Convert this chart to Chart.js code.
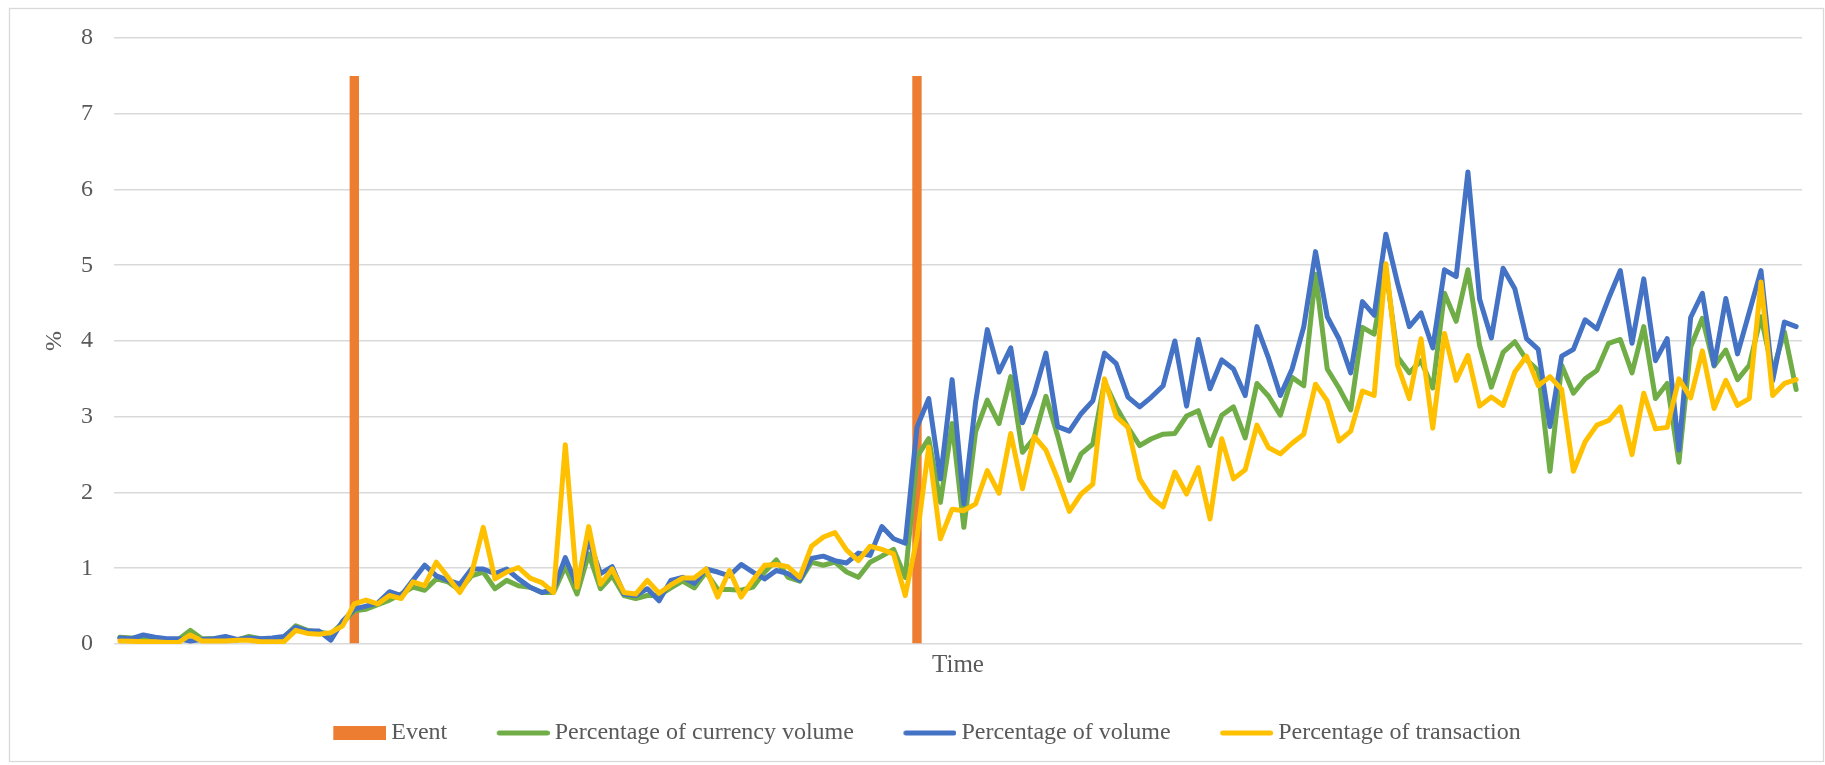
<!DOCTYPE html>
<html><head><meta charset="utf-8">
<script src="https://cdn.jsdelivr.net/npm/chart.js@4.4.1/dist/chart.umd.min.js"></script>
<style>html,body{margin:0;padding:0;background:#fff;}canvas{display:block;}</style>
</head><body>
<canvas id="c" width="1825" height="765"></canvas>
<script>
// ---- data ----
const categories = Array.from({length: 144}, (_, i) => String(i + 1));
const seriesNames = ['Event', 'Percentage of currency volume', 'Percentage of volume', 'Percentage of transaction'];
const eventIndices = [20, 68];
const eventLevel = 7.5;
const currencyVolume = [
0.09,0.08,0.07,0.07,0.06,0.06,0.18,0.07,0.07,0.08,0.05,0.10,0.07,0.06,0.09,0.24,0.18,0.16,0.13,0.28,
0.44,0.46,0.52,0.58,0.66,0.75,0.71,0.86,0.82,0.71,0.90,0.95,0.73,0.84,0.77,0.75,0.68,0.68,1.02,0.66,
1.19,0.73,0.90,0.64,0.60,0.64,0.64,0.74,0.83,0.74,0.95,0.72,0.72,0.71,0.75,0.95,1.11,0.88,0.83,1.08,
1.04,1.08,0.95,0.88,1.08,1.16,1.25,0.88,2.47,2.71,1.87,2.91,1.54,2.80,3.22,2.91,3.53,2.53,2.72,3.27,
2.75,2.16,2.51,2.64,3.46,3.13,2.86,2.62,2.71,2.77,2.78,3.01,3.08,2.62,3.02,3.13,2.72,3.44,3.27,3.02,
3.52,3.41,4.88,3.63,3.38,3.09,4.18,4.09,4.95,3.79,3.58,3.74,3.38,4.63,4.26,4.94,3.94,3.39,3.85,3.99,
3.75,3.61,2.28,3.68,3.31,3.50,3.61,3.97,4.02,3.58,4.19,3.24,3.44,2.40,3.92,4.30,3.67,3.88,3.49,3.68,
4.32,3.60,4.12,3.36];
const volume = [
0.08,0.07,0.12,0.09,0.07,0.07,0.04,0.06,0.07,0.10,0.06,0.08,0.07,0.08,0.10,0.22,0.17,0.17,0.05,0.30,
0.46,0.50,0.54,0.69,0.64,0.84,1.04,0.90,0.84,0.79,0.99,0.99,0.93,0.99,0.86,0.75,0.68,0.72,1.14,0.77,
1.37,0.93,1.02,0.66,0.64,0.73,0.57,0.84,0.88,0.80,0.99,0.95,0.90,1.05,0.95,0.86,0.97,0.93,0.84,1.13,
1.16,1.10,1.07,1.20,1.17,1.55,1.39,1.33,2.86,3.24,2.18,3.49,1.85,3.19,4.15,3.59,3.91,2.92,3.30,3.84,
2.87,2.81,3.04,3.21,3.84,3.70,3.26,3.13,3.26,3.41,4.00,3.14,4.02,3.37,3.75,3.63,3.28,4.19,3.77,3.28,
3.63,4.19,5.18,4.32,4.03,3.58,4.52,4.34,5.41,4.76,4.19,4.37,3.91,4.94,4.85,6.23,4.55,4.04,4.96,4.69,
4.03,3.89,2.87,3.80,3.89,4.28,4.16,4.56,4.93,3.97,4.82,3.74,4.03,2.56,4.31,4.63,3.68,4.56,3.83,4.38,
4.93,3.48,4.25,4.19];
const transaction = [
0.04,0.035,0.03,0.03,0.02,0.02,0.12,0.04,0.04,0.04,0.05,0.05,0.03,0.03,0.03,0.18,0.14,0.13,0.15,0.24,
0.53,0.58,0.53,0.64,0.60,0.82,0.77,1.08,0.88,0.68,0.93,1.54,0.86,0.95,1.01,0.87,0.81,0.68,2.63,0.75,
1.55,0.79,0.99,0.68,0.66,0.84,0.67,0.78,0.87,0.87,0.99,0.62,0.97,0.62,0.84,1.04,1.05,1.02,0.88,1.29,
1.41,1.47,1.24,1.10,1.29,1.25,1.19,0.64,1.40,2.60,1.39,1.78,1.76,1.85,2.29,1.99,2.78,2.05,2.74,2.56,
2.18,1.75,1.98,2.11,3.50,3.00,2.86,2.18,1.94,1.81,2.27,1.98,2.33,1.65,2.71,2.18,2.30,2.89,2.59,2.51,
2.65,2.77,3.43,3.21,2.68,2.81,3.34,3.28,5.02,3.68,3.24,4.03,2.85,4.10,3.48,3.81,3.14,3.26,3.15,3.59,
3.80,3.41,3.53,3.36,2.28,2.67,2.89,2.95,3.13,2.50,3.31,2.84,2.86,3.50,3.25,3.87,3.11,3.48,3.15,3.24,
4.78,3.28,3.44,3.49];
const yTickValues = [0, 1, 2, 3, 4, 5, 6, 7, 8];

// ---- derived ----
const eventValues = categories.map((_, i) => eventIndices.includes(i) ? eventLevel : null);
const COL = {event: '#ED7D31', green: '#70AD47', blue: '#4472C4', yellow: '#FFC000', text: '#595959', grid: '#D9D9D9'};
const FONT = '"Liberation Serif", "Times New Roman", serif';

function legendMarker(color, isBar) {
  const c = document.createElement('canvas');
  c.width = 72; c.height = isBar ? 14 : 6;
  const g = c.getContext('2d');
  if (isBar) { g.fillStyle = color; g.fillRect(19, 0, 53, 14); }
  else { g.strokeStyle = color; g.lineWidth = 5; g.lineCap = 'round'; g.beginPath(); g.moveTo(21.5, 3); g.lineTo(69.5, 3); g.stroke(); }
  return c;
}
const markers = [legendMarker(COL.event, true), legendMarker(COL.green), legendMarker(COL.blue), legendMarker(COL.yellow)];

const frame = {
  id: 'frame',
  beforeDraw(chart) {
    const ctx = chart.ctx;
    ctx.save();
    ctx.fillStyle = '#fff';
    ctx.fillRect(0, 0, chart.width, chart.height);
    ctx.strokeStyle = '#D9D9D9';
    ctx.lineWidth = 1.3;
    ctx.strokeRect(9.5, 8.5, 1814, 753);
    ctx.restore();
  }
};

function lineDs(label, data, color, order) {
  return {type: 'line', label, data, borderColor: color, backgroundColor: color, borderWidth: 5,
    pointRadius: 0, pointHoverRadius: 0, tension: 0, borderJoinStyle: 'round', borderCapStyle: 'round', order};
}

new Chart(document.getElementById('c'), {
  type: 'bar',
  data: {
    labels: categories,
    datasets: [
      {type: 'bar', label: seriesNames[0], data: eventValues, backgroundColor: COL.event, borderWidth: 0,
       barPercentage: 1, categoryPercentage: 0.8, order: 4},
      lineDs(seriesNames[1], currencyVolume, COL.green, 3),
      lineDs(seriesNames[2], volume, COL.blue, 2),
      lineDs(seriesNames[3], transaction, COL.yellow, 1)
    ]
  },
  options: {
    responsive: false, animation: false, devicePixelRatio: 1,
    layout: {padding: {left: 40, right: 23, top: 38, bottom: 10}},
    plugins: {
      tooltip: {enabled: false},
      legend: {
        position: 'bottom',
        labels: {
          usePointStyle: true, pointStyleWidth: 58, boxWidth: 58, padding: 37.5,
          color: COL.text, font: {family: FONT, size: 24},
          generateLabels: (chart) => chart.data.datasets.map((ds, i) => ({
            text: ds.label, pointStyle: markers[i], fillStyle: ds.backgroundColor, strokeStyle: ds.backgroundColor,
            lineWidth: 0, hidden: false, datasetIndex: i, fontColor: COL.text
          }))
        }
      }
    },
    scales: {
      x: {
        grid: {display: false}, border: {display: false}, ticks: {display: false},
        title: {display: true, text: 'Time', color: COL.text, font: {family: FONT, size: 25}, padding: {top: 0, bottom: 3.5}},
        afterFit(s) { s.height = 39.5; }
      },
      y: {
        min: yTickValues[0], max: yTickValues[yTickValues.length - 1],
        afterBuildTicks(s) { s.ticks = yTickValues.map(v => ({value: v})); },
        ticks: {padding: 21, color: COL.text, font: {family: FONT, size: 24}},
        grid: {color: COL.grid, lineWidth: 1.6, drawTicks: false},
        border: {display: false},
        title: {display: true, text: '%', color: COL.text, font: {family: FONT, size: 24}, padding: {top: 0, bottom: 0}},
        afterFit(s) { s.width = 74; }
      }
    }
  },
  plugins: [frame]
});
</script>
</body></html>
